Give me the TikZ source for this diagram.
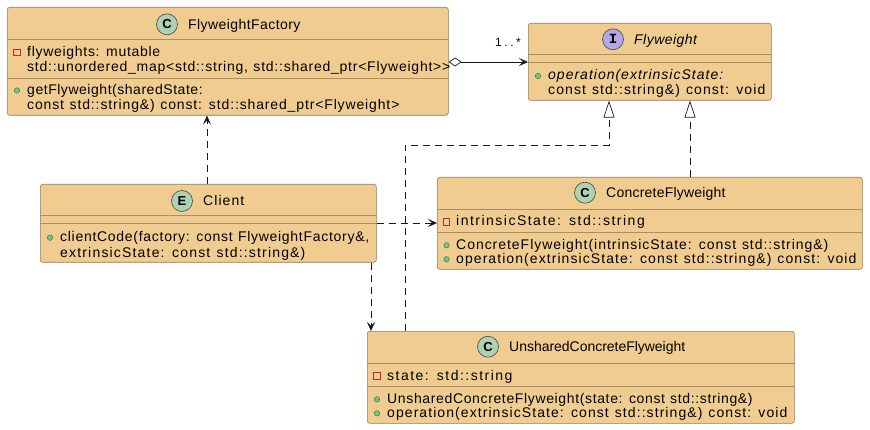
\documentclass[tikz,border=0pt]{standalone}
\usepackage{fontspec}
\setmainfont{Liberation Sans}
\newfontfamily\badgemono{Liberation Mono}
\usetikzlibrary{arrows.meta}
\definecolor{ink}{HTML}{181818}
\definecolor{body}{HTML}{F1CC90}
\definecolor{edge}{HTML}{8C7B60}
\definecolor{rule}{HTML}{A58F6D}
\definecolor{cgreen}{HTML}{ADD1B2}
\definecolor{ipurple}{HTML}{B4A7E5}
\definecolor{privred}{HTML}{C82930}
\definecolor{pubgreen}{HTML}{84BE84}
\definecolor{pubdark}{HTML}{038048}
% every character gets the same advance, as in the rendered diagram
\ExplSyntaxOn
\box_new:N \l_ml_box
\dim_new:N \l_ml_gap_dim
\int_new:N \l_ml_n_int
\NewDocumentCommand \ml { m }
  {
    \hbox_set:Nn \l_ml_box { \tl_to_str:n {#1} }
    \int_set:Nn \l_ml_n_int { \str_count:n {#1} }
    \dim_set:Nn \l_ml_gap_dim
      { ( 7.04pt * \l_ml_n_int - \box_wd:N \l_ml_box ) / \l_ml_n_int }
    \str_map_inline:nn {#1} { ##1 \kern \l_ml_gap_dim }
  }
\ExplSyntaxOff

\begin{document}
\begin{tikzpicture}[
  x=1pt, y=-1pt,
  font=\fontsize{14}{16}\selectfont,
  cls/.style={draw=edge, fill=body, rounded corners=2.5pt, line width=0.6pt, anchor=north west, inner sep=0pt},
  div/.style={draw=rule, line width=0.6pt},
  badge/.style={circle, draw=ink!80, line width=0.6pt, minimum size=21pt, inner sep=0pt, font=\fontsize{13}{13}\selectfont\bfseries},
  mem/.style={anchor=base west, inner sep=0pt},
  priv/.style={draw=privred, line width=0.6pt, minimum size=6.5pt, inner sep=0pt},
  pub/.style={circle, draw=pubdark, fill=pubgreen, line width=0.4pt, minimum size=5.5pt, inner sep=0pt},
  dep/.style={draw=ink, line width=0.7pt, dash pattern=on 7pt off 5pt, -{Stealth[length=9pt, width=8pt, inset=4pt]}},
  real/.style={draw=ink, line width=0.7pt, dash pattern=on 7pt off 5pt, -{Triangle[open, length=17pt, width=11pt]}},
  agg/.style={draw=ink, line width=0.7pt, {Diamond[open, length=13pt, width=9pt]}-{Stealth[length=9pt, width=8pt, inset=4pt]}}]
\useasboundingbox (0,0) rectangle (870,430);
% FlyweightFactory
\node[cls, minimum width=441pt, minimum height=108pt] (ff) at (7,7) {};
\draw[div] ([yshift=-32pt]ff.north west) -- ([yshift=-32pt]ff.north east);
\draw[div] ([yshift=-71pt]ff.north west) -- ([yshift=-71pt]ff.north east);
\node[badge, fill=cgreen] (ff-b) at (167,24.3) {C};
\node[mem] (ff-n) at (188,29.3) {\ml{FlyweightFactory}};
\node[priv] (ff-p1) at (17,52.5) {};
\node[mem] (ff-a1) at (27,56.7) {\ml{flyweights: mutable}};
\node[mem] (ff-a2) at (27,71.7) {\ml{std::unordered_map<std::string, std::shared_ptr<Flyweight>>}};
\node[pub] (ff-o1) at (17,90.5) {};
\node[mem] (ff-m1) at (27,94.3) {\ml{getFlyweight(sharedState:}};
\node[mem] (ff-m2) at (27,110) {\ml{const std::string&) const: std::shared_ptr<Flyweight>}};
% Flyweight (interface)
\node[cls, minimum width=243pt, minimum height=77pt] (fw) at (528,23) {};
\draw[div] ([yshift=-31pt]fw.north west) -- ([yshift=-31pt]fw.north east);
\draw[div] ([yshift=-39pt]fw.north west) -- ([yshift=-39pt]fw.north east);
\node[badge, fill=ipurple, font=\fontsize{14}{14}\selectfont\badgemono\bfseries] (fw-b) at (613,39.3) {I};
\node[mem] (fw-n) at (634,44.3) {\itshape\ml{Flyweight}};
\node[pub] (fw-o1) at (538,76) {};
\node[mem] (fw-m1) at (548,80) {\itshape\ml{operation(extrinsicState:}};
\node[mem] (fw-m2) at (548,94.3) {\ml{const std::string&) const: void}};
% Client
\node[cls, minimum width=336pt, minimum height=78pt] (cl) at (40,184) {};
\draw[div] ([yshift=-31pt]cl.north west) -- ([yshift=-31pt]cl.north east);
\draw[div] ([yshift=-39pt]cl.north west) -- ([yshift=-39pt]cl.north east);
\node[badge, fill=cgreen] (cl-b) at (182,201) {E};
\node[mem] (cl-n) at (203,206) {\ml{Client}};
\node[pub] (cl-o1) at (50,237.7) {};
\node[mem] (cl-m1) at (60,241.7) {\ml{clientCode(factory: const FlyweightFactory&,}};
\node[mem] (cl-m2) at (60,257.3) {\ml{extrinsicState: const std::string&)}};
% ConcreteFlyweight
\node[cls, minimum width=425pt, minimum height=92pt] (cf) at (437,177) {};
\draw[div] ([yshift=-32pt]cf.north west) -- ([yshift=-32pt]cf.north east);
\draw[div] ([yshift=-55pt]cf.north west) -- ([yshift=-55pt]cf.north east);
\node[badge, fill=cgreen] (cf-b) at (585,192.7) {C};
\node[mem] (cf-n) at (606,197.7) {\ml{ConcreteFlyweight}};
\node[priv] (cf-p1) at (446.5,221.7) {};
\node[mem] (cf-a1) at (456,225.7) {\ml{intrinsicState: std::string}};
\node[pub] (cf-o1) at (446.5,245.3) {};
\node[mem] (cf-m1) at (456,249.3) {\ml{ConcreteFlyweight(intrinsicState: const std::string&)}};
\node[pub] (cf-o2) at (446.5,259.3) {};
\node[mem] (cf-m2) at (456,263.3) {\ml{operation(extrinsicState: const std::string&) const: void}};
% UnsharedConcreteFlyweight
\node[cls, minimum width=427pt, minimum height=92pt] (uc) at (367,331) {};
\draw[div] ([yshift=-32pt]uc.north west) -- ([yshift=-32pt]uc.north east);
\draw[div] ([yshift=-55pt]uc.north west) -- ([yshift=-55pt]uc.north east);
\node[badge, fill=cgreen] (uc-b) at (488,346.7) {C};
\node[mem] (uc-n) at (509,351.7) {\ml{UnsharedConcreteFlyweight}};
\node[priv] (uc-p1) at (377,376) {};
\node[mem] (uc-a1) at (387,380) {\ml{state: std::string}};
\node[pub] (uc-o1) at (377,399.3) {};
\node[mem] (uc-m1) at (387,403.3) {\ml{UnsharedConcreteFlyweight(state: const std::string&)}};
\node[pub] (uc-o2) at (377,413.3) {};
\node[mem] (uc-m2) at (387,417.3) {\ml{operation(extrinsicState: const std::string&) const: void}};
% lanes for the connectors
\coordinate (aggy) at (0,62);
\coordinate (depy) at (0,223);
\coordinate (c1x) at (207,0);
\coordinate (c2x) at (371,0);
\coordinate (r1x) at (690,0);
\coordinate (r2x) at (609,0);
\coordinate (elbow) at (405,145);
% connectors
\draw[agg] (ff.east |- aggy) -- (fw.west |- aggy);
\node[mem, font=\fontsize{12}{14}\selectfont] (mult) at (495,47) {\ml{1..*}};
\draw[dep] (cl.north -| c1x) -- (ff.south -| c1x);
\draw[dep] (cl.east |- depy) -- (cf.west |- depy);
\draw[dep] (cl.south -| c2x) -- (uc.north -| c2x);
\draw[real] (cf.north -| r1x) -- (fw.south -| r1x);
\draw[real] (uc.north -| elbow) -- (elbow) -| (fw.south -| r2x);
\end{tikzpicture}
\end{document}
